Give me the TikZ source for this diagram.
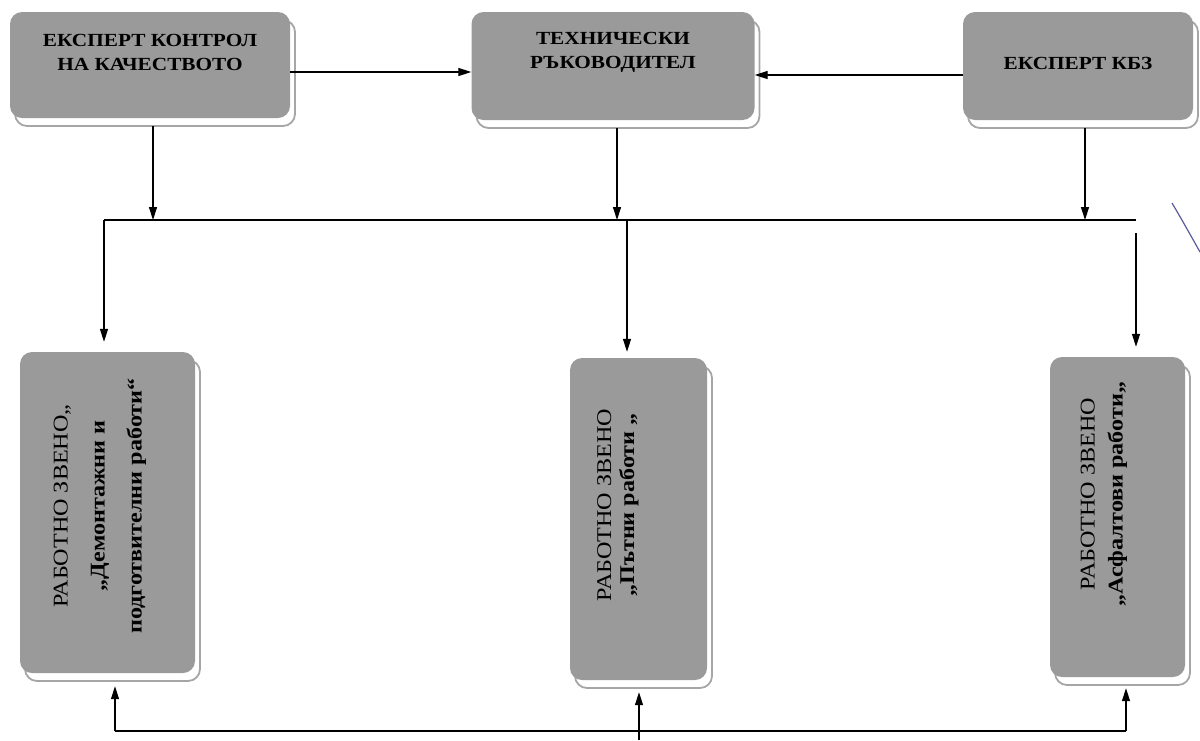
\documentclass[tikz,border=0pt]{standalone}
\usepackage{fontspec}
\setmainfont[FakeStretch=1.15]{Liberation Serif}
\usetikzlibrary{arrows.meta,shadows}
\definecolor{boxgray}{HTML}{9A9A9A}
\definecolor{penblue}{HTML}{5A5A9A}
\begin{document}
\begin{tikzpicture}[x=1pt,y=-1pt,
  box/.style={fill=boxgray, rounded corners=12pt, inner sep=0pt,
    general shadow={shadow xshift=5pt, shadow yshift=-8pt, fill=white, draw=gray!70, line width=1.8pt}},
  toptext/.style={align=center, font=\fontsize{18.5}{24}\selectfont\bfseries, inner sep=0pt},
  vtext/.style={align=center, rotate=90, inner sep=0pt},
  line/.style={line width=1.3pt, black},
  arr/.style={line, -{Triangle[length=13pt,width=8pt]}},
]
\useasboundingbox (0,0) rectangle (1200,740);

% top boxes
\node[box, minimum width=280pt, minimum height=106pt] (b1) at (150,65) {};
\node[box, minimum width=283pt, minimum height=108pt] (b2) at (613,66) {};
\node[box, minimum width=230pt, minimum height=108pt] (b3) at (1078,66) {};
\node[toptext] (t1) at (150,52) {ЕКСПЕРТ КОНТРОЛ\\НА КАЧЕСТВОТО};
\node[toptext] (t2) at (613,52) {ТЕХНИЧЕСКИ\\РЪКОВОДИТЕЛ};
\node[toptext] (t3) at (1078,63) {ЕКСПЕРТ КБЗ};

% bottom boxes
\node[box, minimum width=175pt, minimum height=321pt] (L) at (107.5,512.5) {};
\node[box, minimum width=137pt, minimum height=322pt] (M) at (638.5,519) {};
\node[box, minimum width=135pt, minimum height=320pt] (R) at (1117.5,517) {};
\node[vtext, font=\fontsize{21}{37}\selectfont] (tL) at (100,506)
  {РАБОТНО ЗВЕНО„\\\textbf{„Демонтажни и}\\\textbf{подготвителни работи“}};
\node[vtext, font=\fontsize{21}{23}\selectfont] (tM) at (618,505)
  {РАБОТНО ЗВЕНО\\\textbf{„Пътни работи „}};
\node[vtext, font=\fontsize{21}{28}\selectfont] (tR) at (1104,494)
  {РАБОТНО ЗВЕНО\\\textbf{„Асфалтови работи„}};

% horizontal arrows between top boxes
\draw[arr] ([yshift=-7pt]b1.east) -- ([yshift=-7pt]b1.east -| b2.west);
\draw[arr] ([yshift=-9pt]b3.west) -- ([yshift=-9pt]b3.west -| b2.east);

% bus
\coordinate (busL) at (104,220);
\coordinate (busM) at (627,220);
\coordinate (busR) at (1136,220);
\draw[line] (busL) -- (busR);
\draw[arr] ([xshift=3pt,yshift=-8pt]b1.south) -- ([xshift=3pt]b1.south |- busL);
\draw[arr] ([xshift=4pt,yshift=-8pt]b2.south) -- ([xshift=4pt]b2.south |- busL);
\draw[arr] ([xshift=7pt,yshift=-8pt]b3.south) -- ([xshift=7pt]b3.south |- busL);
\draw[arr, shorten >=10pt] (busL) -- (busL |- L.north);
\draw[arr, shorten >=6pt] (busM) -- (busM |- M.north);
\draw[arr, shorten >=10pt] ([yshift=-13pt]busR) -- (busR |- R.north);

% bottom line
\coordinate (baseL) at (115,731);
\coordinate (baseM) at (639,740);
\coordinate (baseR) at (1126,731);
\draw[line] (baseL) -- (baseR);
\draw[arr, shorten >=13pt] (baseL) -- (baseL |- L.south);
\draw[arr, shorten >=12pt] (baseM) -- (baseM |- M.south);
\draw[arr, shorten >=11pt] (baseR) -- (baseR |- R.south);

% pen mark
\draw[penblue, line width=1.2pt] (1172,203) .. controls (1182,220) .. (1200,252);
\end{tikzpicture}
\end{document}
